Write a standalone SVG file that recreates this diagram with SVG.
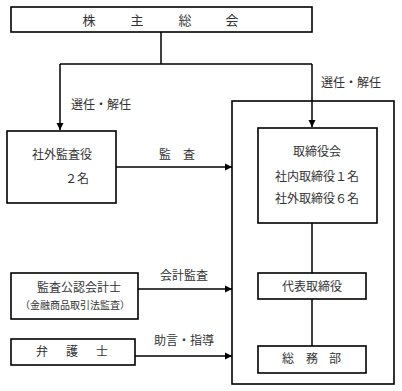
<svg xmlns="http://www.w3.org/2000/svg" width="402" height="391" viewBox="0 0 402 391">
<style>
.box{fill:#fff;stroke:#000;stroke-width:1.6}
.ln{fill:none;stroke:#000;stroke-width:1.5}
text{font-family:"Liberation Serif","Noto Sans CJK JP",serif;font-size:12px;fill:#333;text-anchor:middle;dominant-baseline:central}
.sm{font-size:10px}
.big{font-size:13px}
</style>
<defs>
<marker id="ah" markerWidth="8" markerHeight="8" refX="7" refY="4" orient="auto" markerUnits="userSpaceOnUse">
<path d="M0,0.5 L7,4 L0,7.5 Z" fill="#000"/>
</marker>
</defs>
<rect width="402" height="391" fill="#fff"/>
<g id="outer"><rect class="box" x="232" y="101" width="162" height="283"/></g>
<g id="connectors">
<path class="ln" d="M161,32 V64 M60,64 H312"/>
<path class="ln" d="M60,64 V130" marker-end="url(#ah)"/>
<path class="ln" d="M312,64 V127" marker-end="url(#ah)"/>
<path class="ln" d="M116,167 H232" marker-end="url(#ah)"/>
<path class="ln" d="M138,289 H232" marker-end="url(#ah)"/>
<path class="ln" d="M135,356 H232" marker-end="url(#ah)"/>
<path class="ln" d="M312,223 V273 M312,299 V346"/>
<text x="101" y="105">選任・解任</text>
<text x="351" y="83">選任・解任</text>
<text x="177" y="155">監　査</text>
<text x="184" y="276">会計監査</text>
<text x="184" y="341">助言・指導</text>
</g>
<g id="shareholders"><rect class="box" x="11" y="7" width="301" height="25"/>
<text class="big" x="89" y="20">株</text><text class="big" x="137" y="20">主</text><text class="big" x="185" y="20">総</text><text class="big" x="232" y="20">会</text></g>
<g id="auditors"><rect class="box" x="7" y="131" width="109" height="72"/>
<text x="62" y="155">社外監査役</text><text x="77" y="179">２名</text></g>
<g id="board"><rect class="box" x="258" y="128" width="119" height="95"/>
<text x="317" y="152">取締役会</text><text x="317" y="177">社内取締役１名</text><text x="317" y="199">社外取締役６名</text></g>
<g id="cpa"><rect class="box" x="11" y="273" width="127" height="46"/>
<text x="79" y="288">監査公認会計士</text><text class="sm" x="75" y="305">（金融商品取引法監査）</text></g>
<g id="lawyer"><rect class="box" x="11" y="339" width="124" height="26"/>
<text x="42" y="352">弁</text><text x="72" y="352">護</text><text x="102" y="352">士</text></g>
<g id="rep"><rect class="box" x="258" y="273" width="108" height="26"/>
<text x="312" y="287">代表取締役</text></g>
<g id="general"><rect class="box" x="258" y="346" width="108" height="27"/>
<text x="288" y="359">総</text><text x="312" y="359">務</text><text x="335" y="359">部</text></g>
</svg>
